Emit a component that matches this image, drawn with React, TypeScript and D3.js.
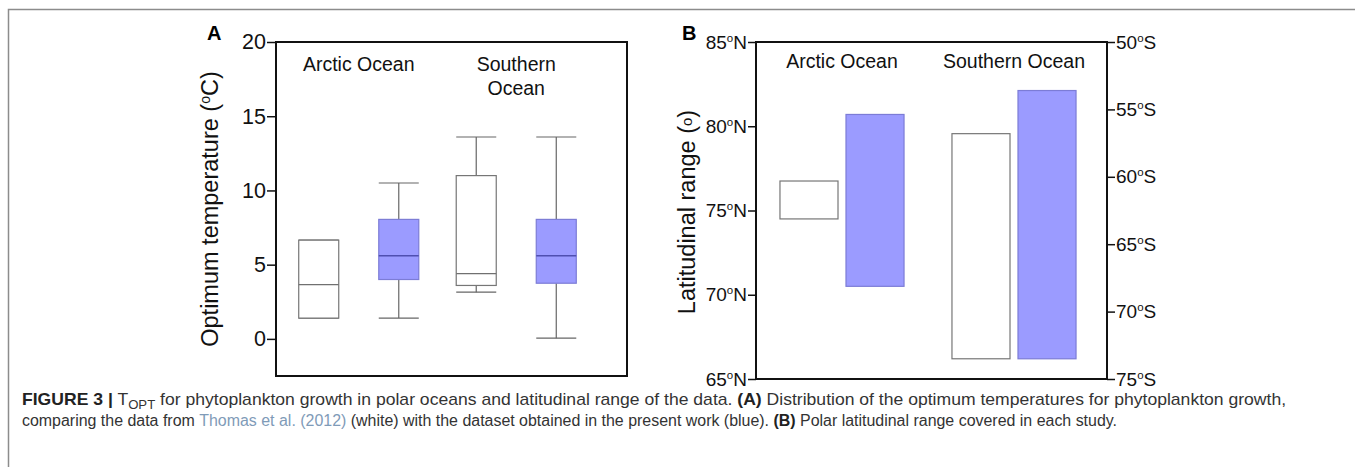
import React, { useEffect, useRef } from 'react';
import * as d3 from 'd3';

const oceans = ['Arctic Ocean', 'Southern Ocean'];
const studies = ['Thomas et al. (2012)', 'Present work'];

// panel A: optimum temperature (°C) box plots, one entry per ocean x study
const boxOcean = ['Arctic Ocean', 'Arctic Ocean', 'Southern Ocean', 'Southern Ocean'];
const boxStudy = ['Thomas et al. (2012)', 'Present work', 'Thomas et al. (2012)', 'Present work'];
const boxMin = [1.4, 1.4, 3.15, 0.05];
const boxQ1 = [1.4, 4.0, 3.6, 3.75];
const boxMedian = [3.65, 5.6, 4.4, 5.6];
const boxQ3 = [6.65, 8.05, 11.0, 8.05];
const boxMax = [6.65, 10.5, 13.6, 13.6];
const tempTicks = [0, 5, 10, 15, 20];

// panel B: latitudinal range covered (north in °N, south in negative °S)
const latOcean = ['Arctic Ocean', 'Arctic Ocean', 'Southern Ocean', 'Southern Ocean'];
const latStudy = ['Thomas et al. (2012)', 'Present work', 'Thomas et al. (2012)', 'Present work'];
const latFrom = [74.5, 70.5, -73.5, -73.5];
const latTo = [76.75, 80.7, -56.8, -53.6];
const northTicks = [65, 70, 75, 80, 85];
const southTicks = [-75, -70, -65, -60, -55, -50];

const FONT = '"Liberation Sans", Arial, Helvetica, sans-serif';
const BLUE = '#9b9bff';

const App = () => {
  const svgRef = useRef<SVGSVGElement>(null);

  useEffect(() => {
    const svg = d3.select(svgRef.current);
    svg.selectAll('*').remove();
    svg.attr('font-family', FONT);

    // page frame
    svg.append('path').attr('d', 'M8.5,467 V9.5 H1355').attr('fill', 'none')
      .attr('stroke', '#8c8c8c').attr('stroke-width', 1.5);

    const top = 42;
    const fillOf = (s: string) => (s === studies[1] ? BLUE : '#ffffff');
    const strokeOf = (s: string) => (s === studies[1] ? '#7c7cd6' : '#767676');

    // ---------- panel A ----------
    const ax0 = 276, ax1 = 627, aBottom = 376;
    const yA = d3.scaleLinear().domain([-2.5, 20]).range([aBottom, top]);
    const xA = d3.scaleBand().domain(oceans).range([280, 595]);
    const xAin = d3.scaleBand().domain(studies).range([0, xA.bandwidth()]).paddingInner(0.5).paddingOuter(0.234);
    const gA = svg.append('g');

    boxOcean.forEach((o, i) => {
      const s = boxStudy[i];
      const x0 = (xA(o) as number) + (xAin(s) as number);
      const w = xAin.bandwidth();
      const cx = x0 + w / 2;
      const g = gA.append('g');
      const wc = '#666';
      g.append('line').attr('x1', cx).attr('x2', cx).attr('y1', yA(boxMax[i])).attr('y2', yA(boxQ3[i]))
        .attr('stroke', wc).attr('stroke-width', 1.2);
      g.append('line').attr('x1', cx).attr('x2', cx).attr('y1', yA(boxQ1[i])).attr('y2', yA(boxMin[i]))
        .attr('stroke', wc).attr('stroke-width', 1.2);
      [boxMax[i], boxMin[i]].forEach(v => {
        g.append('line').attr('x1', x0).attr('x2', x0 + w).attr('y1', yA(v)).attr('y2', yA(v))
          .attr('stroke', wc).attr('stroke-width', 1.2);
      });
      g.append('rect').attr('x', x0).attr('width', w).attr('y', yA(boxQ3[i]))
        .attr('height', yA(boxQ1[i]) - yA(boxQ3[i]))
        .attr('fill', fillOf(s)).attr('stroke', strokeOf(s)).attr('stroke-width', 1.2);
      g.append('line').attr('x1', x0).attr('x2', x0 + w).attr('y1', yA(boxMedian[i])).attr('y2', yA(boxMedian[i]))
        .attr('stroke', s === studies[1] ? '#4f4fb0' : '#707070').attr('stroke-width', 1.3);
    });

    gA.append('rect').attr('x', ax0).attr('y', top).attr('width', ax1 - ax0).attr('height', aBottom - top)
      .attr('fill', 'none').attr('stroke', '#111').attr('stroke-width', 2);

    const axA = gA.append('g').attr('transform', `translate(${ax0},0)`)
      .call(d3.axisLeft(yA).tickValues(tempTicks).tickSize(9).tickPadding(1));
    axA.select('.domain').remove();
    axA.selectAll('.tick line').attr('stroke', '#111').attr('stroke-width', 1.5);
    axA.selectAll('.tick text').attr('font-family', FONT).attr('font-size', 21.5).attr('fill', '#111');

    oceans.forEach(o => {
      const cx = (xA(o) as number) + xA.bandwidth() / 2;
      const t = gA.append('text').attr('x', cx).attr('y', top + 29).attr('text-anchor', 'middle')
        .attr('font-size', 19.5).attr('fill', '#111');
      if (o === 'Southern Ocean') {
        const parts = o.split(' ');
        t.append('tspan').attr('x', cx).text(parts[0]);
        t.append('tspan').attr('x', cx).attr('dy', 24).text(parts[1]);
      } else t.text(o);
    });

    gA.append('text').attr('x', 207).attr('y', 40).attr('font-size', 20).attr('font-weight', 'bold').text('A');
    const labA = gA.append('text').attr('transform', `translate(218,209) rotate(-90)`)
      .attr('text-anchor', 'middle').attr('font-size', 23.5).attr('fill', '#111');
    labA.append('tspan').text('Optimum temperature (');
    labA.append('tspan').attr('font-size', 14).attr('dy', -8).text('o');
    labA.append('tspan').attr('dy', 8).text('C)');

    // ---------- panel B ----------
    const bx0 = 756, bx1 = 1107, bBottom = 379;
    const yN = d3.scaleLinear().domain([65, 85]).range([bBottom, top]);
    const yS = d3.scaleLinear().domain([-75, -50]).range([bBottom, top]);
    const xB = d3.scaleBand().domain(oceans).range([bx0, 1100]);
    const xBin = d3.scaleBand().domain(studies).range([0, xB.bandwidth()]).paddingInner(0.121).paddingOuter(0.363);
    const gB = svg.append('g');

    latOcean.forEach((o, i) => {
      const s = latStudy[i];
      const y = o === 'Arctic Ocean' ? yN : yS;
      const x0 = (xB(o) as number) + (xBin(s) as number);
      gB.append('rect').attr('x', x0).attr('width', xBin.bandwidth())
        .attr('y', y(latTo[i])).attr('height', y(latFrom[i]) - y(latTo[i]))
        .attr('fill', fillOf(s)).attr('stroke', strokeOf(s)).attr('stroke-width', 1.2);
    });

    gB.append('rect').attr('x', bx0).attr('y', top).attr('width', bx1 - bx0).attr('height', bBottom - top)
      .attr('fill', 'none').attr('stroke', '#111').attr('stroke-width', 2);

    const degLabel = (sel: any, fmt: (d: number) => string, hemi: string) => {
      sel.selectAll('.tick text').each(function (d: any) {
        const t = d3.select(this);
        t.text(null).attr('font-family', FONT).attr('font-size', 19).attr('fill', '#111');
        t.append('tspan').text(fmt(d));
        t.append('tspan').attr('font-size', 11.5).attr('dy', -7).text('o');
        t.append('tspan').attr('dy', 7).text(hemi);
      });
      sel.select('.domain').remove();
      sel.selectAll('.tick line').attr('stroke', '#111').attr('stroke-width', 1.5);
    };

    const axN = gB.append('g').attr('transform', `translate(${bx0},0)`)
      .call(d3.axisLeft(yN).tickValues(northTicks).tickSize(8).tickPadding(1));
    degLabel(axN, d => String(d), 'N');
    const axS = gB.append('g').attr('transform', `translate(${bx1},0)`)
      .call(d3.axisRight(yS).tickValues(southTicks).tickSize(8).tickPadding(1));
    degLabel(axS, d => String(Math.abs(d)), 'S');

    oceans.forEach(o => {
      const cx = (xB(o) as number) + xB.bandwidth() / 2;
      gB.append('text').attr('x', cx).attr('y', top + 26).attr('text-anchor', 'middle')
        .attr('font-size', 19.5).attr('fill', '#111').text(o);
    });

    gB.append('text').attr('x', 682).attr('y', 40).attr('font-size', 20).attr('font-weight', 'bold').text('B');
    const labB = gB.append('text').attr('transform', `translate(695,212) rotate(-90)`)
      .attr('text-anchor', 'middle').attr('font-size', 23.5).attr('fill', '#111');
    labB.append('tspan').text('Latitudinal range (');
    labB.append('tspan').attr('font-size', 15).attr('dy', -3).text('o');
    labB.append('tspan').attr('dy', 3).text(')');

    // ---------- caption ----------
    // condensed look: draw at natural width, then squeeze to the measured line length
    const cap = svg.append('g').attr('font-family', FONT).attr('font-size', 16).attr('fill', '#333');
    const fit = (t: any, x: number, y: number, width: number) => {
      const w = (t.node() as SVGTextElement).getComputedTextLength();
      t.attr('transform', `translate(${x},${y}) scale(${width / w},1)`);
    };
    const l1 = cap.append('text').attr('x', 0).attr('y', 0);
    l1.append('tspan').attr('font-weight', 'bold').attr('fill', '#222').text('FIGURE 3 |');
    l1.append('tspan').text(' T');
    l1.append('tspan').attr('font-size', 12).attr('dy', 4).text('OPT');
    l1.append('tspan').attr('dy', -4).text(' for phytoplankton growth in polar oceans and latitudinal range of the data. ');
    l1.append('tspan').attr('font-weight', 'bold').attr('fill', '#222').text('(A)');
    l1.append('tspan').text(' Distribution of the optimum temperatures for phytoplankton growth,');
    fit(l1, 22, 405, 1265);

    const l2 = cap.append('text').attr('x', 0).attr('y', 0);
    l2.append('tspan').text('comparing the data from ');
    l2.append('tspan').attr('fill', '#7f9bb8').text(studies[0]);
    l2.append('tspan').text(' (white) with the dataset obtained in the present work (blue). ');
    l2.append('tspan').attr('font-weight', 'bold').attr('fill', '#222').text('(B)');
    l2.append('tspan').text(' Polar latitudinal range covered in each study.');
    fit(l2, 22, 426, 1095);
  }, []);

  return (
    <div style={{ position: 'absolute', left: 0, top: 0, width: 1355, height: 467, background: '#fff' }}>
      <svg ref={svgRef} width={1355} height={467} style={{ display: 'block' }} />
    </div>
  );
};

export default App;
